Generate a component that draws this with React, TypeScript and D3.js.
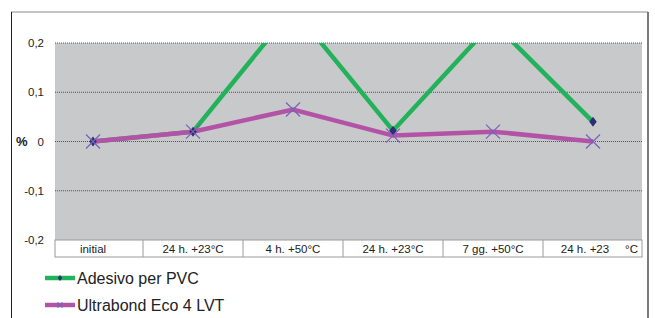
import React from "react";
import * as d3 from "d3";

const categories = ["initial", "24 h. +23°C", "4 h. +50°C", "24 h. +23°C", "7 gg. +50°C", "24 h. +23"];
const adesivo = [0, 0.02, 0.27, 0.022, 0.242, 0.04];
const ultrabond = [0, 0.02, 0.065, 0.012, 0.02, 0];
const yTicks = [0.2, 0.1, 0, -0.1, -0.2];
const seriesNames = ["Adesivo per PVC", "Ultrabond Eco 4 LVT"];

const W = 655;
const H = 318;
const plotL = 55;
const plotR = 642;
const plotT = 43;
const plotB = 240;
const font = "'Liberation Sans', Arial, sans-serif";

export default function App() {
  const x = d3.scaleLinear().domain([0, 5]).range([93, 593]);
  const y = d3.scaleLinear().domain([-0.2, 0.2]).range([plotB, plotT]);
  const line = d3
    .line<number>()
    .x((d, i) => x(i))
    .y((d) => y(d));

  // cell edges of the category table
  const edges = [plotL, ...d3.range(1, 6).map((i) => x(i) - 50), plotR];

  const diamond = (cx: number, cy: number, r = 5) =>
    `M${cx},${cy - r}L${cx + r * 0.75},${cy}L${cx},${cy + r}L${cx - r * 0.75},${cy}Z`;

  const cross = (cx: number, cy: number, key: string, s = 7) => (
    <g key={key} stroke="#7a62b8" strokeWidth={1.2}>
      <line x1={cx - s} y1={cy - s} x2={cx + s} y2={cy + s} />
      <line x1={cx - s} y1={cy + s} x2={cx + s} y2={cy - s} />
    </g>
  );

  return (
    <svg
      width={W}
      height={H}
      style={{ position: "absolute", left: 0, top: 0, fontFamily: font }}
    >
      <rect x={0} y={0} width={W} height={H} fill="#fff" />
      {/* frame */}
      <line x1={11} y1={12} x2={648} y2={12} stroke="#8a8a8a" strokeWidth={1} />
      <line x1={11.5} y1={12} x2={11.5} y2={H} stroke="#222" strokeWidth={1} />
      <line x1={648} y1={12} x2={648} y2={H} stroke="#7a7a7a" strokeWidth={2} />

      <defs>
        <clipPath id="plot">
          <rect x={plotL} y={plotT} width={plotR - plotL} height={plotB - plotT} />
        </clipPath>
      </defs>

      <rect x={plotL} y={plotT} width={plotR - plotL} height={plotB - plotT} fill="#c8c9cb" />
      {yTicks.slice(0, 4).map((t) => (
        <line
          key={t}
          x1={plotL}
          x2={plotR}
          y1={y(t)}
          y2={y(t)}
          stroke="#333"
          strokeWidth={0.8}
          strokeDasharray="1,1"
        />
      ))}
      {yTicks.map((t) => (
        <text
          key={"l" + t}
          x={44}
          y={y(t)}
          dy="0.35em"
          textAnchor="end"
          fontSize={11.5}
          fill="#222"
        >
          {t === 0 ? "0" : d3.format(".1f")(t).replace(".", ",").replace("−", "-")}
        </text>
      ))}
      <text x={16} y={y(0)} dy="0.35em" fontSize={13} fontWeight="bold" fill="#222">
        %
      </text>

      {/* category table */}
      <rect x={plotL} y={plotB} width={plotR - plotL} height={17} fill="#fff" stroke="#9a9a9a" strokeWidth={1} />
      {edges.slice(1, -1).map((e, i) => (
        <line key={i} x1={e} x2={e} y1={plotB} y2={plotB + 17} stroke="#9a9a9a" strokeWidth={1} />
      ))}
      {categories.map((c, i) => (
        <text
          key={i}
          x={i === categories.length - 1 ? x(i) - 8 : x(i)}
          y={plotB + 12.5}
          textAnchor="middle"
          fontSize={11.5}
          fill="#222"
        >
          {c}
        </text>
      ))}
      <text x={plotR - 4} y={plotB + 12.5} textAnchor="end" fontSize={11.5} fill="#222">
        °C
      </text>

      <g clipPath="url(#plot)">
        <path d={line(adesivo) || ""} fill="none" stroke="#22b25a" strokeWidth={4.5} strokeLinejoin="miter" />
      </g>
      <path d={line(ultrabond) || ""} fill="none" stroke="#b353a6" strokeWidth={4.5} />
      <g clipPath="url(#plot)">
        {adesivo.map((v, i) => (
          <path key={i} d={diamond(x(i), y(v))} fill="#2d2f72" />
        ))}
      </g>
      {ultrabond.map((v, i) => cross(x(i), y(v), "c" + i))}

      {/* legend */}
      <line x1={45} x2={75} y1={278} y2={278} stroke="#22b25a" strokeWidth={4.5} />
      <path d={diamond(60, 278, 3)} fill="#2d2f72" />
      <text x={77} y={278} dy="0.35em" fontSize={16} fill="#222">
        {seriesNames[0]}
      </text>
      <line x1={45} x2={75} y1={305} y2={305} stroke="#b353a6" strokeWidth={4.5} />
      {cross(60, 305, "lc", 2.5)}
      <text x={77} y={305} dy="0.35em" fontSize={16} fill="#222">
        {seriesNames[1]}
      </text>
    </svg>
  );
}
